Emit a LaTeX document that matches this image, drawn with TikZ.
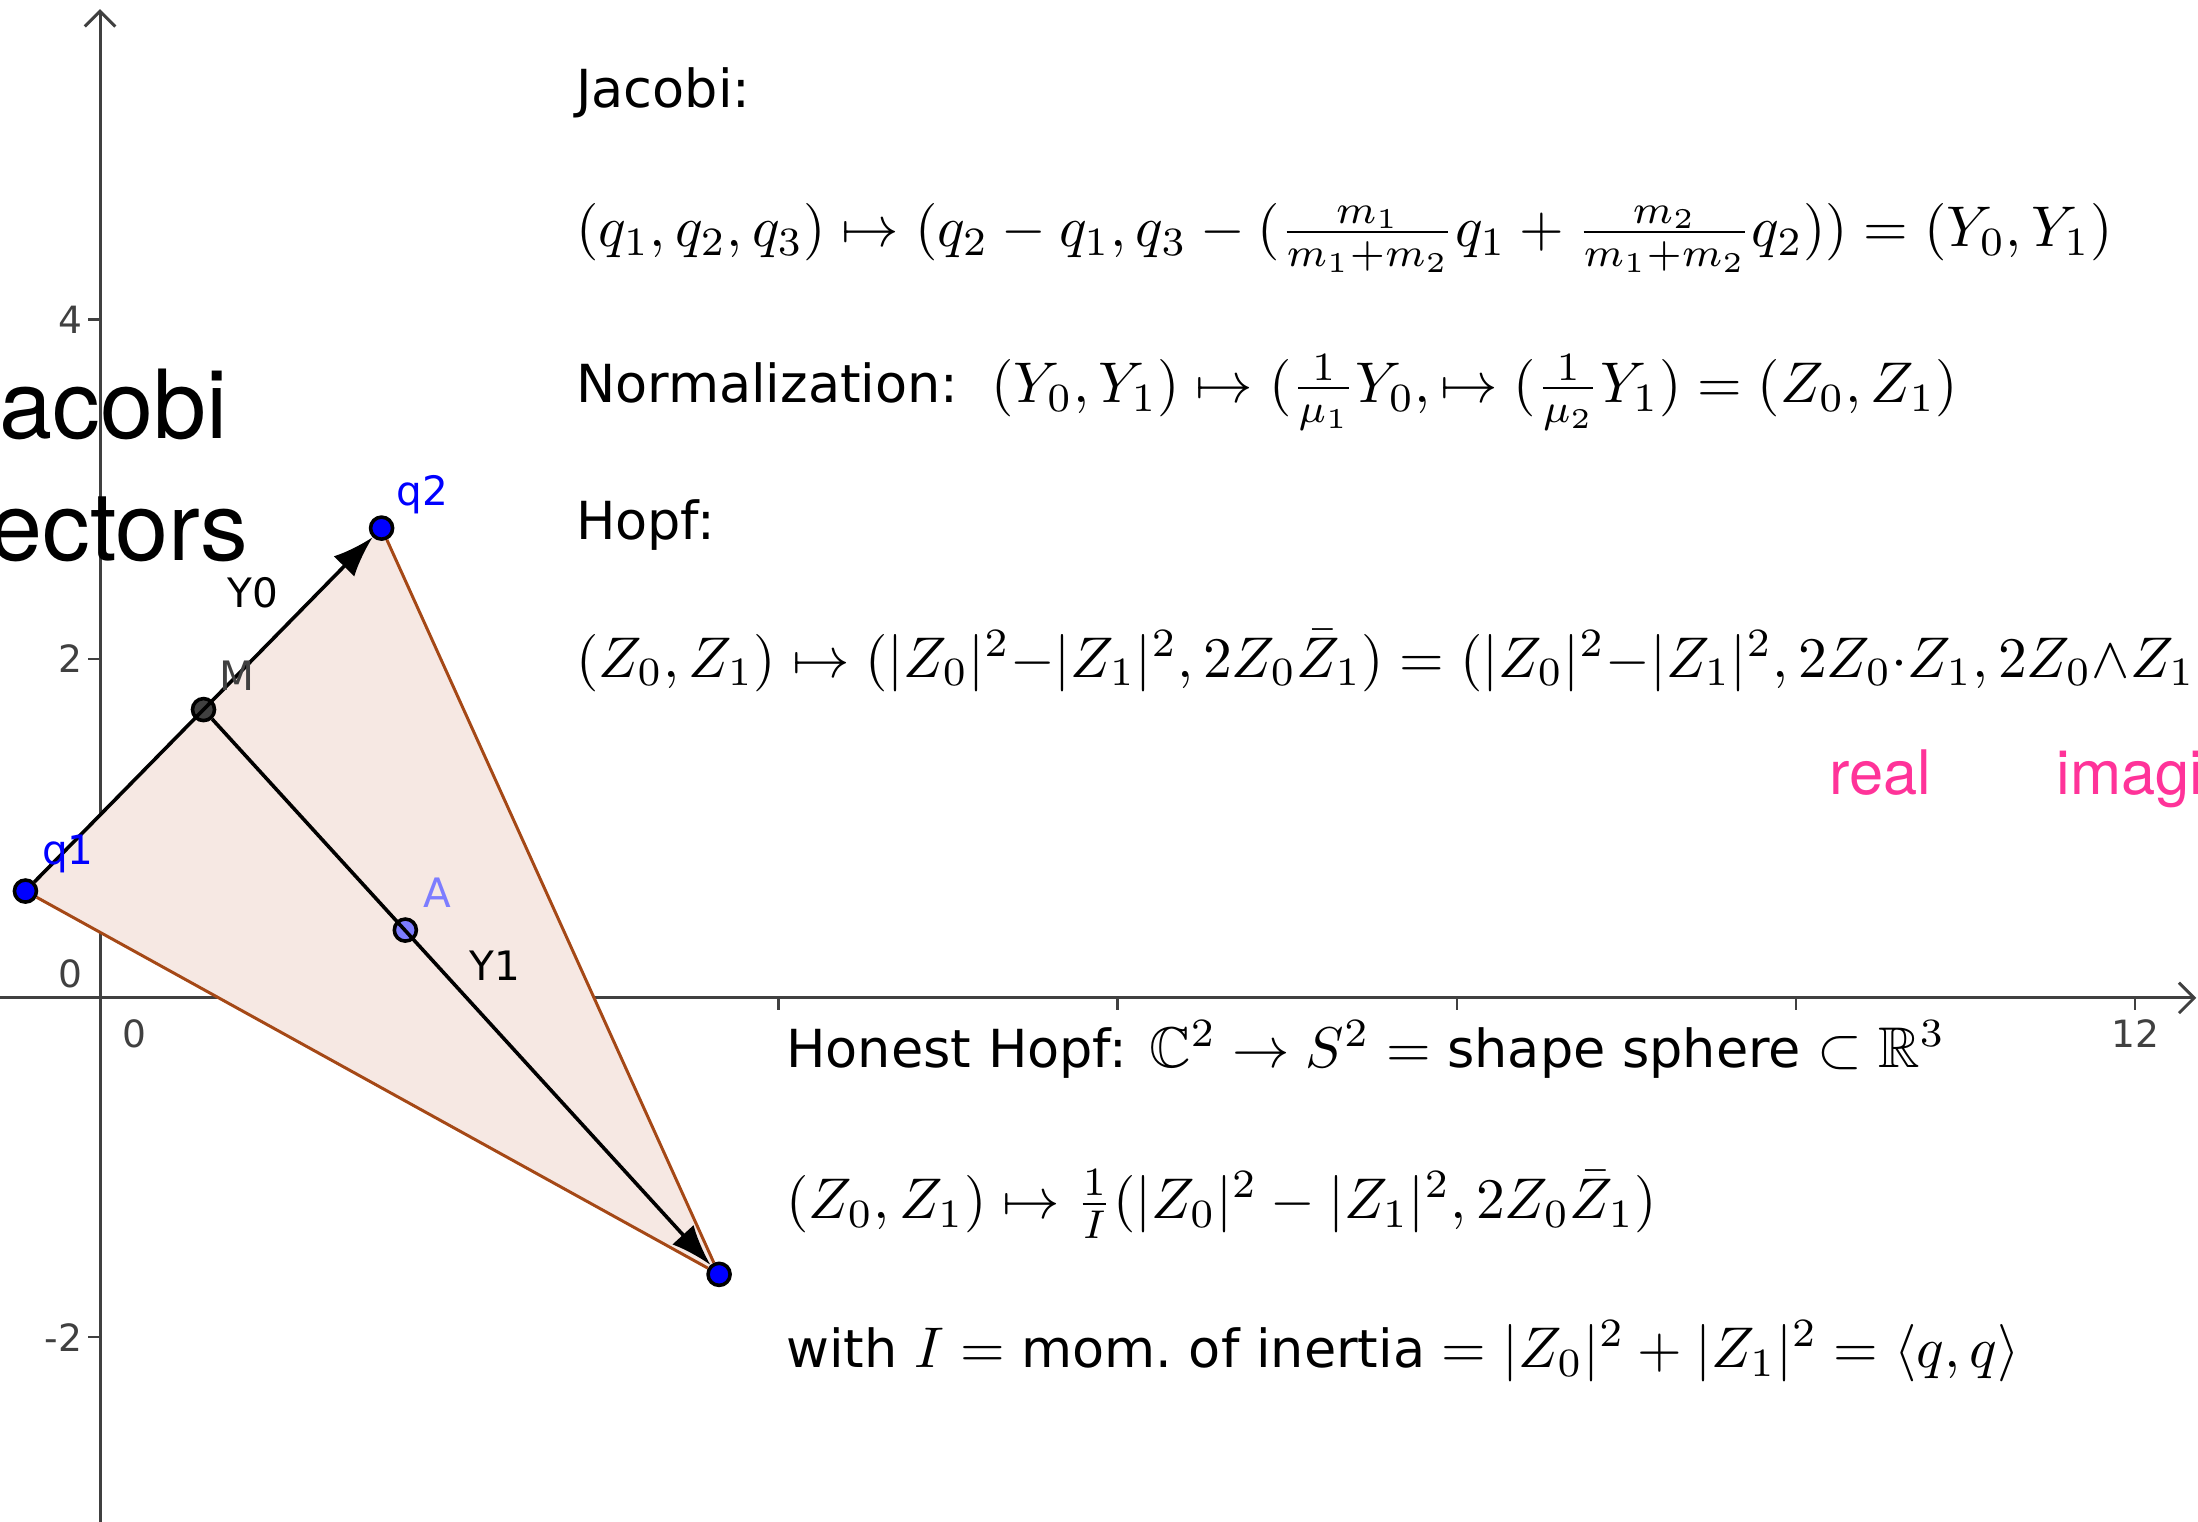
\documentclass[tikz,border=0pt]{standalone}
\usepackage{amsmath, amssymb}
\usepackage{graphicx}
\usepackage{fontspec}
\newfontfamily\ggbfont{DejaVu Sans}
\newfontfamily\helvfont{TeX Gyre Heros}
\usetikzlibrary{arrows.meta}
\definecolor{ggbblue}{RGB}{0,0,255}
\definecolor{ggblight}{RGB}{125,125,255}
\definecolor{ggbgray}{RGB}{64,64,64}
\definecolor{ggbbrown}{RGB}{165,72,22}
\definecolor{ggbfill}{RGB}{246,232,227}
\definecolor{hotpink}{RGB}{255,51,153}
\newcommand{\mth}[1]{{\fontsize{10}{12}\selectfont\scalebox{0.963}{$#1$}}}

\begin{document}
\begin{tikzpicture}[
    txt/.style={anchor=base west, inner sep=0pt, font=\ggbfont\fontsize{8.8}{11}\selectfont},
    big/.style={anchor=base west, inner sep=0pt, font=\helvfont\fontsize{16}{20}\selectfont},
    tick/.style={ggbgray, line width=0.4pt},
    ticklbl/.style={font=\ggbfont\fontsize{6.3}{7}\selectfont, text=ggbgray, inner sep=0pt},
    lbl/.style={font=\ggbfont\fontsize{6.8}{8}\selectfont, inner sep=0pt},
    pt/.style={circle, draw=black, line width=0.6pt, minimum size=1.3mm, inner sep=0pt},
    vec/.style={-{Latex[length=2.4mm,width=1.7mm]}, line width=0.6pt},
    side/.style={ggbbrown, line width=0.5pt}
]
    \useasboundingbox (-0.59,-3.09) rectangle (12.37,5.884);
    \clip (-0.59,-3.09) rectangle (12.37,5.884);

    \draw[ggbgray, line width=0.5pt, -{Straight Barb[length=0.9mm,width=1.8mm]}] (-0.7,0) -- (12.36,0);
    \draw[ggbgray, line width=0.5pt, -{Straight Barb[length=0.9mm,width=1.8mm]}] (0,-3.2) -- (0,5.83);
    \foreach \x in {2,4,...,12} \draw[tick] (\x,0) -- (\x,-0.07);
    \foreach \y in {-2,2,4} \draw[tick] (0,\y) -- (-0.07,\y);
    \foreach \y in {-2,2,4} \node[ticklbl, anchor=east] at (-0.1,\y) {\y};
    \node[ticklbl, anchor=south east] at (-0.1,0.05) {0};
    \node[ticklbl, anchor=north] at (0.2,-0.12) {0};
    \node[ticklbl, anchor=north] at (2,-0.12) {2};
    \node[ticklbl, anchor=north] at (12,-0.12) {12};

    \coordinate (c1) at (-0.44,0.63);
    \coordinate (c2) at (1.66,2.77);
    \coordinate (c3) at (3.65,-1.63);
    \coordinate (cm) at (0.61,1.70);
    \coordinate (ca) at (1.80,0.40);

    \fill[ggbfill] (c1) -- (c2) -- (c3) -- cycle;

    \node[pt, fill=ggbblue] (q1) at (c1) {};
    \node[pt, fill=ggbblue] (q2) at (c2) {};
    \node[pt, fill=ggbblue] (q3) at (c3) {};
    \node[pt, fill=ggbgray] (M) at (cm) {};
    \node[pt, fill=ggblight] (A) at (ca) {};

    \draw[side] (q2) -- (q3) -- (q1);
    \draw[vec] (q1) -- (q2);
    \draw[vec] (M) -- (q3);

    \node[lbl, text=ggbblue] at (-0.19,0.85) {q1};
    \node[lbl, text=ggbblue] at (1.90,2.97) {q2};
    \node[lbl, text=ggbgray] at (0.81,1.90) {M};
    \node[lbl, text=ggblight] at (1.99,0.62) {A};
    \node[lbl] at (0.90,2.39) {Y0};
    \node[lbl] at (2.33,0.19) {Y1};

    \node[big] (title1) at (-0.88,3.296) {Jacobi};
    \node[big] (title2) at (-0.93,2.577) {vectors};

    \node[txt] (jac) at (2.80,5.25) {Jacobi:};
    \node[txt] (jacmap) at (2.80,4.43) {\mth{(q_1,q_2,q_3)\mapsto(q_2-q_1,q_3-(\frac{m_1}{m_1+m_2}q_1+\frac{m_2}{m_1+m_2}q_2))=(Y_0,Y_1)}};
    \node[txt] (norm) at (2.80,3.51) {Normalization:\ \ \mth{(Y_0,Y_1)\mapsto(\frac{1}{\mu_1}Y_0,\mapsto(\frac{1}{\mu_2}Y_1)=(Z_0,Z_1)}};
    \node[txt] (hopf) at (2.80,2.70) {Hopf:};
    \node[txt] (hopfmap) at (2.80,1.89) {\mth{(Z_0,Z_1)\mapsto(|Z_0|^2{-}|Z_1|^2,2Z_0\bar{Z}_1)=(|Z_0|^2{-}|Z_1|^2,2Z_0{\cdot}Z_1,2Z_0{\wedge}Z_1)}};
    \node[txt, font=\helvfont\fontsize{10.3}{12}\selectfont, text=hotpink] (re) at (10.19,1.20) {real};
    \node[txt, font=\helvfont\fontsize{10.3}{12}\selectfont, text=hotpink] (im) at (11.53,1.20) {imaginary};

    \node[txt] (honest) at (4.04,-0.41) {Honest Hopf: \mth{\mathbb{C}^2\to S^2=} shape sphere \mth{\subset\mathbb{R}^3}};
    \node[txt] (honmap) at (4.04,-1.30) {\mth{(Z_0,Z_1)\mapsto\frac{1}{I}(|Z_0|^2-|Z_1|^2,2Z_0\bar{Z}_1)}};
    \node[txt] (inertia) at (4.04,-2.18) {with \mth{I=} mom.\ of inertia \mth{=|Z_0|^2+|Z_1|^2=\langle q,q\rangle}};
\end{tikzpicture}
\end{document}
